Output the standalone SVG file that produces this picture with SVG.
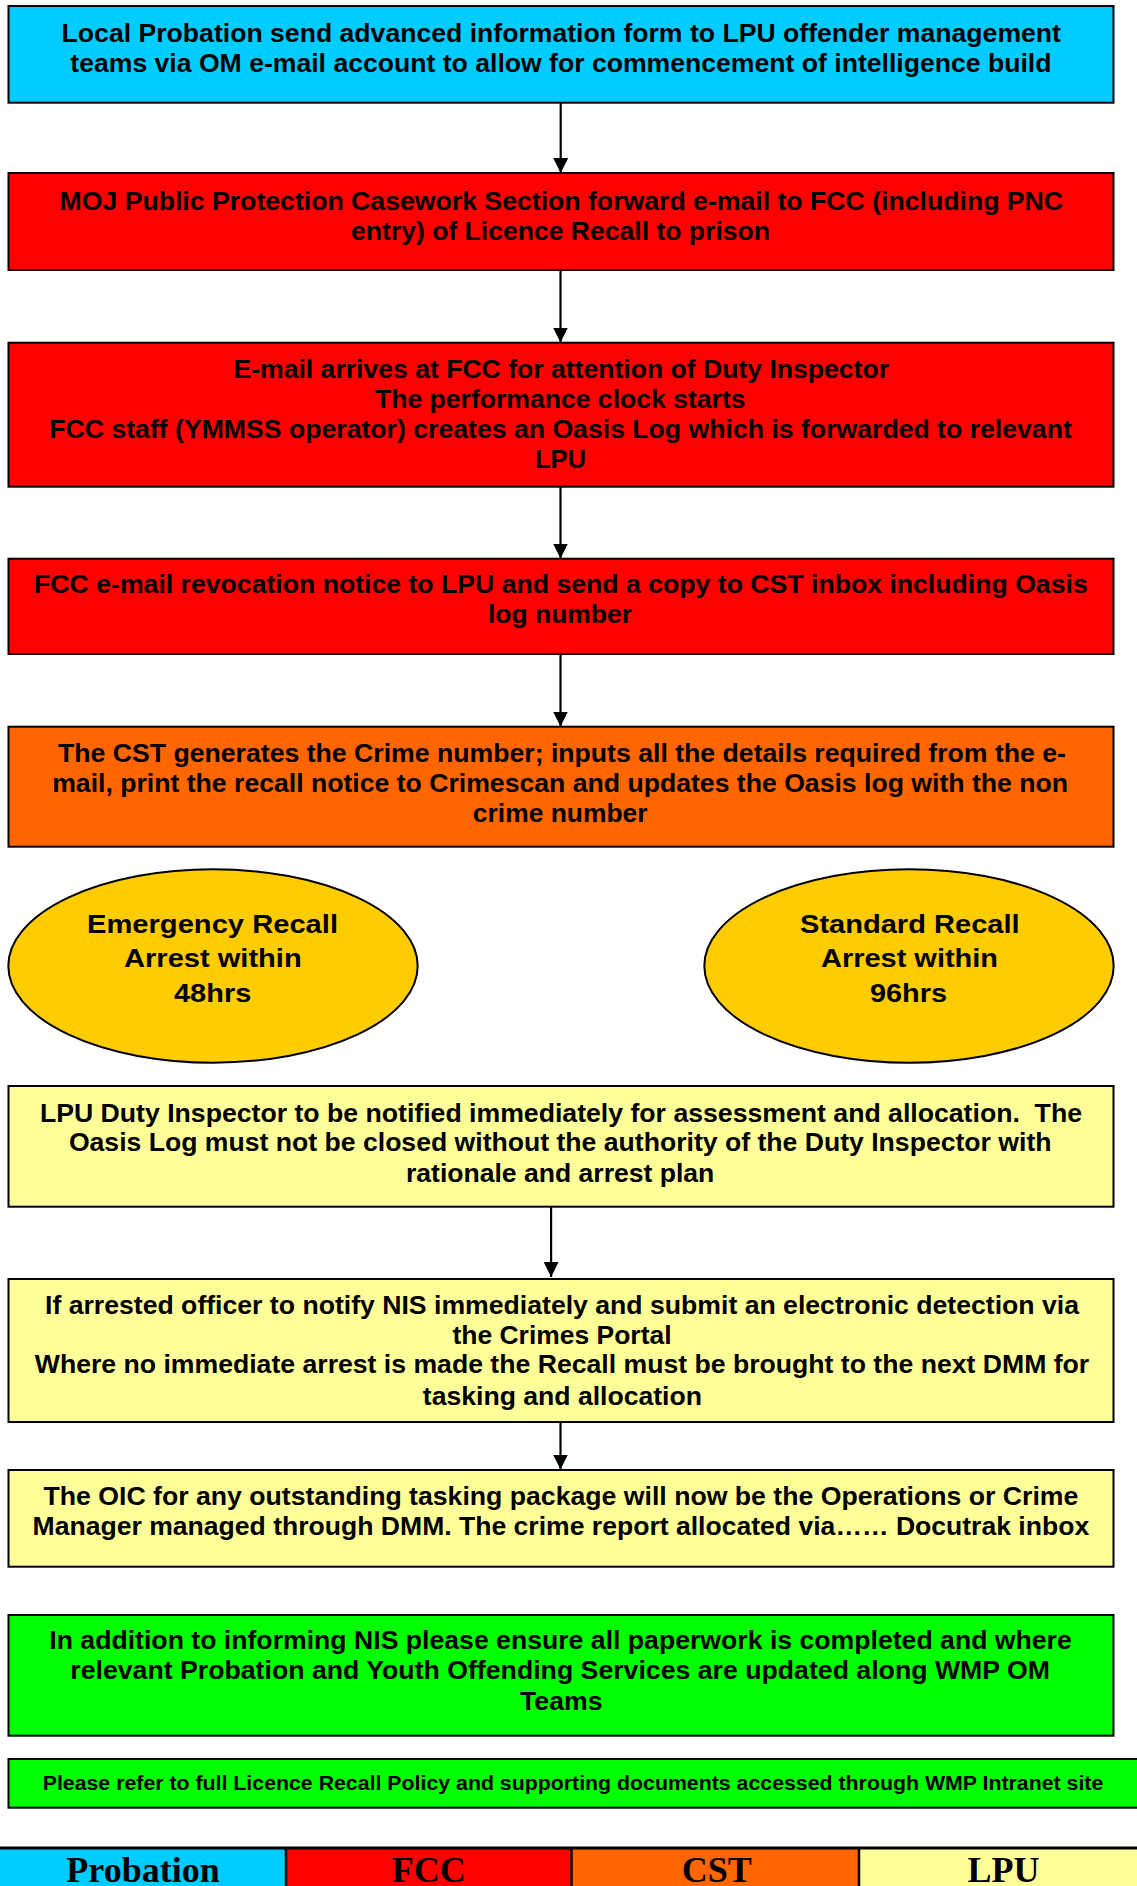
<svg xmlns="http://www.w3.org/2000/svg" width="1137" height="1886" viewBox="0 0 1137 1886">
<style>
.box{stroke:#000;stroke-width:2}
.t{font-family:"Liberation Sans",Arial,sans-serif;font-weight:bold;font-size:25.5px;fill:#000}
.te{font-family:"Liberation Sans",Arial,sans-serif;font-weight:bold;font-size:25px;fill:#000}
.ts{font-family:"Liberation Sans",Arial,sans-serif;font-weight:bold;font-size:20.5px;fill:#000}
.lg{font-family:"Liberation Serif","Times New Roman",serif;font-weight:bold;font-size:36px;fill:#000;text-anchor:middle}
.conn{stroke:#000;stroke-width:2.2;fill:none}
.probation{fill:#00CCFF}.fcc{fill:#FF0000}.cst{fill:#FF6600}.lpu{fill:#FFFF99}.green{fill:#00FF00}.amber{fill:#FFCC00}
</style>
<defs>
<marker id="ah" markerWidth="16" markerHeight="15" refX="15" refY="7.5" orient="auto" markerUnits="userSpaceOnUse">
<path d="M0,0 L15,7.5 L0,15 Z" fill="#000"/>
</marker>
</defs>
<rect width="1137" height="1886" fill="#fff"/>

<g id="connectors">
<line class="conn" x1="560.7" y1="103" x2="560.7" y2="173" marker-end="url(#ah)"/>
<line class="conn" x1="560.5" y1="270" x2="560.5" y2="342.5" marker-end="url(#ah)"/>
<line class="conn" x1="560.5" y1="487" x2="560.5" y2="558.5" marker-end="url(#ah)"/>
<line class="conn" x1="560.5" y1="654" x2="560.5" y2="726.5" marker-end="url(#ah)"/>
<line class="conn" x1="551.1" y1="1204" x2="551.1" y2="1277" marker-end="url(#ah)"/>
<line class="conn" x1="560.5" y1="1422" x2="560.5" y2="1469.5" marker-end="url(#ah)"/>
</g>

<g id="node1">
<rect class="box probation" x="8.5" y="6" width="1105" height="96.7"/>
<text class="t" x="61.6" y="42" textLength="999.4" lengthAdjust="spacingAndGlyphs">Local Probation send advanced information form to LPU offender management</text>
<text class="t" x="70.3" y="72" textLength="981.2" lengthAdjust="spacingAndGlyphs">teams via OM e-mail account to allow for commencement of intelligence build</text>
</g>

<g id="node2">
<rect class="box fcc" x="8.5" y="173" width="1105" height="97"/>
<text class="t" x="59.5" y="210" textLength="1003.6" lengthAdjust="spacingAndGlyphs">MOJ Public Protection Casework Section forward e-mail to FCC (including PNC</text>
<text class="t" x="351" y="239.5" textLength="419" lengthAdjust="spacingAndGlyphs">entry) of Licence Recall to prison</text>
</g>

<g id="node3">
<rect class="box fcc" x="8.5" y="342.7" width="1105" height="144"/>
<text class="t" x="233.5" y="377.7" textLength="655.5" lengthAdjust="spacingAndGlyphs">E-mail arrives at FCC for attention of Duty Inspector</text>
<text class="t" x="375" y="408" textLength="370.5" lengthAdjust="spacingAndGlyphs">The performance clock starts</text>
<text class="t" x="49.3" y="438.3" textLength="1022.5" lengthAdjust="spacingAndGlyphs">FCC staff (YMMSS operator) creates an Oasis Log which is forwarded to relevant</text>
<text class="t" x="535" y="468.3" textLength="51" lengthAdjust="spacingAndGlyphs">LPU</text>
</g>

<g id="node4">
<rect class="box fcc" x="8.5" y="558.7" width="1105" height="95.3"/>
<text class="t" x="34.1" y="593.3" textLength="1053.6" lengthAdjust="spacingAndGlyphs">FCC e-mail revocation notice to LPU and send a copy to CST inbox including Oasis</text>
<text class="t" x="488" y="623.3" textLength="144" lengthAdjust="spacingAndGlyphs">log number</text>
</g>

<g id="node5">
<rect class="box cst" x="8.5" y="726.7" width="1105" height="120"/>
<text class="t" x="58" y="761.7" textLength="1008" lengthAdjust="spacingAndGlyphs">The CST generates the Crime number; inputs all the details required from the e-</text>
<text class="t" x="52.2" y="791.7" textLength="1015.8" lengthAdjust="spacingAndGlyphs">mail, print the recall notice to Crimescan and updates the Oasis log with the non</text>
<text class="t" x="472.8" y="822" textLength="174.8" lengthAdjust="spacingAndGlyphs">crime number</text>
</g>

<g id="node6">
<ellipse class="box amber" cx="213" cy="966" rx="204.7" ry="96.7" stroke-width="1.6"/>
<text class="te" x="87" y="932.7" textLength="251" lengthAdjust="spacingAndGlyphs">Emergency Recall</text>
<text class="te" x="124" y="967.3" textLength="177.7" lengthAdjust="spacingAndGlyphs">Arrest within</text>
<text class="te" x="174" y="1001.7" textLength="77.3" lengthAdjust="spacingAndGlyphs">48hrs</text>
</g>

<g id="node7">
<ellipse class="box amber" cx="909" cy="966" rx="204.7" ry="96.7" stroke-width="1.6"/>
<text class="te" x="800" y="932.7" textLength="219.6" lengthAdjust="spacingAndGlyphs">Standard Recall</text>
<text class="te" x="821" y="967.3" textLength="177" lengthAdjust="spacingAndGlyphs">Arrest within</text>
<text class="te" x="870" y="1001.7" textLength="77" lengthAdjust="spacingAndGlyphs">96hrs</text>
</g>

<g id="node8">
<rect class="box lpu" x="8.5" y="1086" width="1105" height="120.7"/>
<text class="t" x="39.9" y="1121.7" textLength="1042.1" lengthAdjust="spacingAndGlyphs" xml:space="preserve">LPU Duty Inspector to be notified immediately for assessment and allocation.  The</text>
<text class="t" x="68.9" y="1151" textLength="982.6" lengthAdjust="spacingAndGlyphs">Oasis Log must not be closed without the authority of the Duty Inspector with</text>
<text class="t" x="406" y="1182" textLength="308.3" lengthAdjust="spacingAndGlyphs">rationale and arrest plan</text>
</g>

<g id="node9">
<rect class="box lpu" x="8.5" y="1279" width="1105" height="143"/>
<text class="t" x="45" y="1314" textLength="1034" lengthAdjust="spacingAndGlyphs">If arrested officer to notify NIS immediately and submit an electronic detection via</text>
<text class="t" x="452.5" y="1344" textLength="219" lengthAdjust="spacingAndGlyphs">the Crimes Portal</text>
<text class="t" x="34.8" y="1373.3" textLength="1054.4" lengthAdjust="spacingAndGlyphs">Where no immediate arrest is made the Recall must be brought to the next DMM for</text>
<text class="t" x="422.8" y="1405" textLength="279.2" lengthAdjust="spacingAndGlyphs">tasking and allocation</text>
</g>

<g id="node10">
<rect class="box lpu" x="8.5" y="1470" width="1105" height="96.7"/>
<text class="t" x="43.5" y="1505" textLength="1034.8" lengthAdjust="spacingAndGlyphs">The OIC for any outstanding tasking package will now be the Operations or Crime</text>
<text class="t" x="32.6" y="1535" textLength="1056.6" lengthAdjust="spacingAndGlyphs">Manager managed through DMM. The crime report allocated via…… Docutrak inbox</text>
</g>

<g id="node11">
<rect class="box green" x="8.5" y="1615" width="1105" height="120.7"/>
<text class="t" x="49.3" y="1649.3" textLength="1022.5" lengthAdjust="spacingAndGlyphs">In addition to informing NIS please ensure all paperwork is completed and where</text>
<text class="t" x="70.3" y="1679.3" textLength="979.7" lengthAdjust="spacingAndGlyphs">relevant Probation and Youth Offending Services are updated along WMP OM</text>
<text class="t" x="520" y="1710" textLength="82.6" lengthAdjust="spacingAndGlyphs">Teams</text>
</g>

<g id="node12">
<rect class="box green" x="8.5" y="1759" width="1140" height="48.7"/>
<text class="ts" x="42.7" y="1790" textLength="1060.6" lengthAdjust="spacingAndGlyphs">Please refer to full Licence Recall Policy and supporting documents accessed through WMP Intranet site</text>
</g>

<g id="legend">
<rect class="probation" x="0" y="1848" width="286" height="40"/>
<rect class="fcc" x="286" y="1848" width="285.5" height="40"/>
<rect class="cst" x="571.5" y="1848" width="287.5" height="40"/>
<rect class="lpu" x="859" y="1848" width="280" height="40"/>
<line x1="0" y1="1848" x2="1137" y2="1848" stroke="#000" stroke-width="3"/>
<line x1="286" y1="1848" x2="286" y2="1886" stroke="#000" stroke-width="2.5"/>
<line x1="571.5" y1="1848" x2="571.5" y2="1886" stroke="#000" stroke-width="2.5"/>
<line x1="859" y1="1848" x2="859" y2="1886" stroke="#000" stroke-width="2.5"/>
<text class="lg" x="143" y="1882">Probation</text>
<text class="lg" x="428.7" y="1882">FCC</text>
<text class="lg" x="716.8" y="1882">CST</text>
<text class="lg" x="1003.4" y="1882">LPU</text>
</g>
</svg>
